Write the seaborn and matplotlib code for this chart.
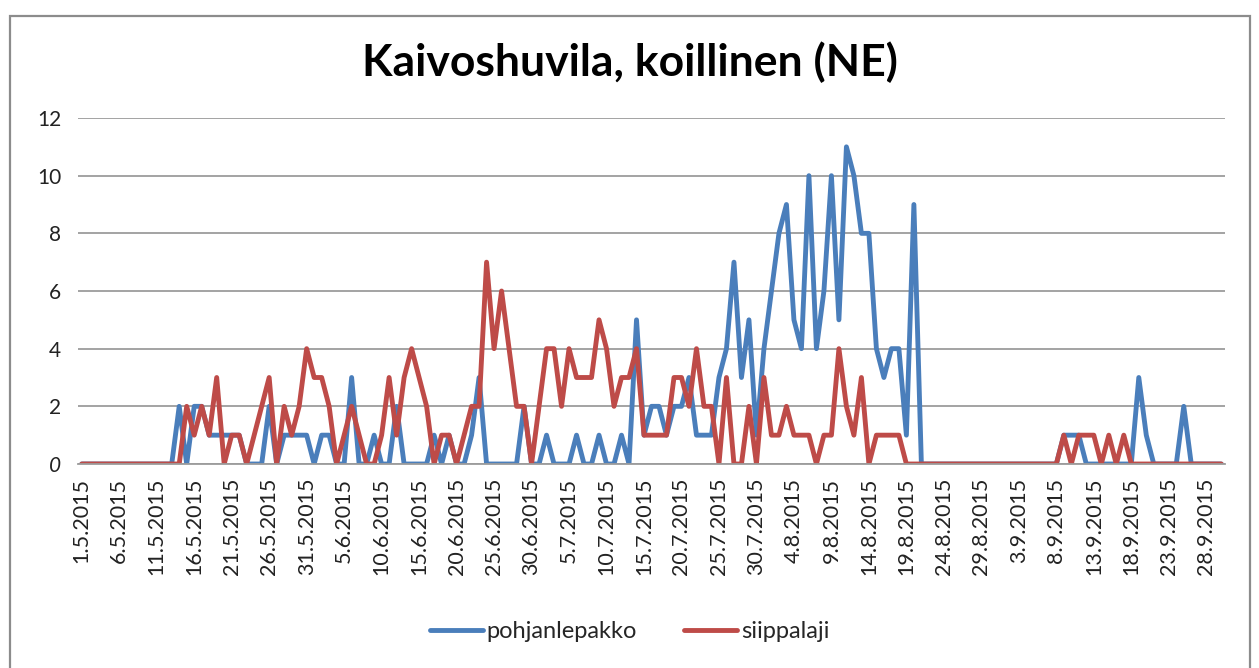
import matplotlib
matplotlib.use("Agg")
import matplotlib.pyplot as plt
from matplotlib.patches import Rectangle
import numpy as np
import pandas as pd
import seaborn as sns

# Daily counts, 1.5.2015 - 30.9.2015
dates = pd.date_range("2015-05-01", "2015-09-30", freq="D")

pohjanlepakko = [
    0, 0, 0, 0, 0, 0, 0, 0, 0, 0,      # 1.5 - 10.5
    0, 0, 0, 2, 0, 2, 2, 1, 1, 1,      # 11.5 - 20.5
    1, 1, 0, 0, 0, 2, 0, 1, 1, 1,      # 21.5 - 30.5
    1, 0, 1, 1, 0, 0, 3, 0, 0, 1,      # 31.5 - 9.6
    0, 0, 2, 0, 0, 0, 0, 1, 0, 1,      # 10.6 - 19.6
    0, 0, 1, 3, 0, 0, 0, 0, 0, 2,      # 20.6 - 29.6
    0, 0, 1, 0, 0, 0, 1, 0, 0, 1,      # 30.6 - 9.7
    0, 0, 1, 0, 5, 1, 2, 2, 1, 2,      # 10.7 - 19.7
    2, 3, 1, 1, 1, 3, 4, 7, 3, 5,      # 20.7 - 29.7
    1, 4, 6, 8, 9, 5, 4, 10, 4, 6,     # 30.7 - 8.8
    10, 5, 11, 10, 8, 8, 4, 3, 4, 4,   # 9.8 - 18.8
    1, 9, 0, 0, 0, 0, 0, 0, 0, 0,      # 19.8 - 28.8
    0, 0, 0, 0, 0, 0, 0, 0, 0, 0,      # 29.8 - 7.9
    0, 1, 1, 1, 0, 0, 0, 0, 0, 0,      # 8.9 - 17.9
    0, 3, 1, 0, 0, 0, 0, 2, 0, 0,      # 18.9 - 27.9
    0, 0, 0,                           # 28.9 - 30.9
]

siippalaji = [
    0, 0, 0, 0, 0, 0, 0, 0, 0, 0,      # 1.5 - 10.5
    0, 0, 0, 0, 2, 1, 2, 1, 3, 0,      # 11.5 - 20.5
    1, 1, 0, 1, 2, 3, 0, 2, 1, 2,      # 21.5 - 30.5
    4, 3, 3, 2, 0, 1, 2, 1, 0, 0,      # 31.5 - 9.6
    1, 3, 1, 3, 4, 3, 2, 0, 1, 1,      # 10.6 - 19.6
    0, 1, 2, 2, 7, 4, 6, 4, 2, 2,      # 20.6 - 29.6
    0, 2, 4, 4, 2, 4, 3, 3, 3, 5,      # 30.6 - 9.7
    4, 2, 3, 3, 4, 1, 1, 1, 1, 3,      # 10.7 - 19.7
    3, 2, 4, 2, 2, 0, 3, 0, 0, 2,      # 20.7 - 29.7
    0, 3, 1, 1, 2, 1, 1, 1, 0, 1,      # 30.7 - 8.8
    1, 4, 2, 1, 3, 0, 1, 1, 1, 1,      # 9.8 - 18.8
    0, 0, 0, 0, 0, 0, 0, 0, 0, 0,      # 19.8 - 28.8
    0, 0, 0, 0, 0, 0, 0, 0, 0, 0,      # 29.8 - 7.9
    0, 1, 0, 1, 1, 1, 0, 1, 0, 1,      # 8.9 - 17.9
    0, 0, 0, 0, 0, 0, 0, 0, 0, 0,      # 18.9 - 27.9
    0, 0, 0,                           # 28.9 - 30.9
]

series_names = ["pohjanlepakko", "siippalaji"]
series_colors = ["#4A7EBB", "#BE4B48"]
title_text = "Kaivoshuvila, koillinen (NE)"
y_ticks = [0, 2, 4, 6, 8, 10, 12]

n_days = len(dates)
day_idx = np.arange(n_days)
tick_pos = day_idx[::5]
tick_labels = [f"{d.day}.{d.month}.{d.year}" for d in dates[::5]]

df = pd.concat([
    pd.DataFrame({"day": day_idx, "count": pohjanlepakko, "laji": series_names[0]}),
    pd.DataFrame({"day": day_idx, "count": siippalaji, "laji": series_names[1]}),
])

sns.set_style("white")
plt.rcParams["font.family"] = ["Lato", "DejaVu Sans"]

W, H = 1259, 668
fig = plt.figure(figsize=(W / 100, H / 100), dpi=100)
ax = fig.add_axes([78 / W, (H - 464) / H, (1225 - 78) / W, (464 - 118) / H])

sns.lineplot(data=df, x="day", y="count", hue="laji", hue_order=series_names,
             palette=series_colors, linewidth=3.5, ax=ax, legend=True)

ax.set_xlim(-0.5, n_days - 0.5)
ax.set_ylim(0, 12)
ax.set_yticks(y_ticks)
ax.set_yticklabels([str(v) for v in y_ticks], fontsize=15, color="#222222")
ax.get_yticklabels()[0].set_style("italic")
ax.set_xticks(tick_pos)
ax.set_xticklabels(tick_labels, rotation=90, fontsize=15.5, color="#222222",
                   va="top", ha="center")
ax.tick_params(axis="y", length=0, pad=12)
ax.tick_params(axis="x", length=0, pad=10)
ax.set_xlabel("")
ax.set_ylabel("")

ax.grid(axis="y", color="#9C9C9C", linewidth=1.3)
ax.grid(axis="x", visible=False)
ax.set_axisbelow(True)
for side in ["left", "right", "top"]:
    ax.spines[side].set_visible(False)
ax.spines["bottom"].set_color("#9C9C9C")
ax.spines["bottom"].set_linewidth(1.3)

handles, labels = ax.get_legend_handles_labels()
ax.legend(handles, labels, loc="center", bbox_to_anchor=(0.5, (H - 632) / H),
          bbox_transform=fig.transFigure, ncol=2, frameon=False,
          fontsize=17, handlelength=2.25, columnspacing=2.0, handletextpad=0.15)

fig.text(0.5, (H - 62) / H, title_text, ha="center", va="center",
         fontsize=32, fontweight="bold", color="black",
         family=["Lato", "DejaVu Sans"])

fig.patches.append(Rectangle((10 / W, -0.02), (1250 - 10) / W, (H - 16) / H + 0.02,
                             transform=fig.transFigure, fill=False,
                             edgecolor="#8C8C8C", linewidth=1.6))

fig.savefig("out.png", dpi=100, facecolor="white")
